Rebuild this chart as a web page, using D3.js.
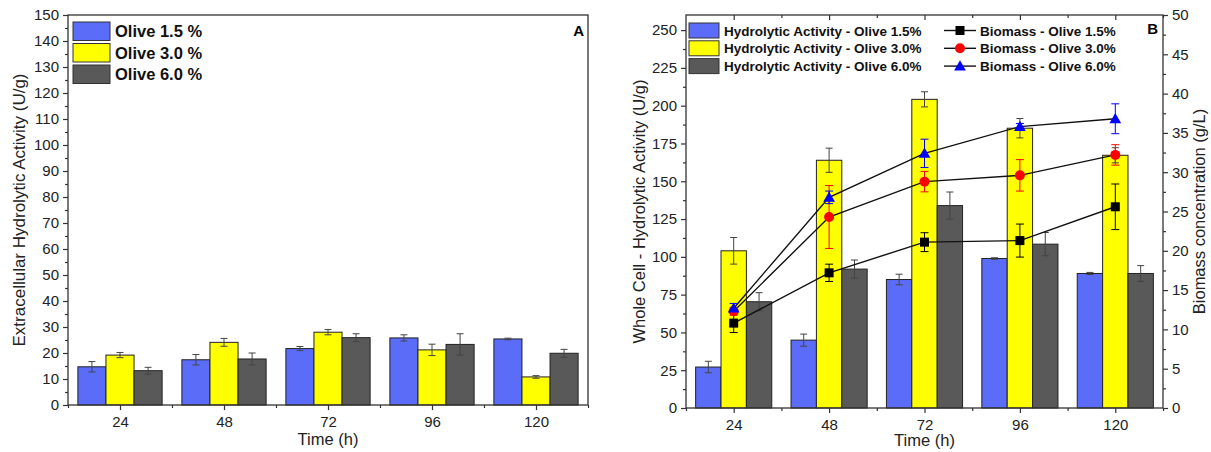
<!DOCTYPE html>
<html>
<head>
<meta charset="utf-8">
<script src="https://cdn.jsdelivr.net/npm/d3@7"></script>
<style>
  body { margin: 0; background: #fff; }
  svg { display: block; font-family: Arial, "Liberation Sans", sans-serif; }
  .tick text { font-size: 15px; fill: #222; }
  .tick line { stroke: #333; stroke-width: 1.2; }
</style>
</head>
<body>
<div id="chart"></div>
<script>
// sampling times (h)
const times = [24, 48, 72, 96, 120];

// panel A: extracellular hydrolytic activity (U/g)
const extLabels = ["Olive 1.5 %", "Olive 3.0 %", "Olive 6.0 %"];
const ext15 = [14.7, 17.4, 21.7, 25.8, 25.4];
const ext15Err = [2.0, 2.0, 0.8, 1.2, 0.3];
const ext30 = [19.2, 24.1, 28.0, 21.2, 10.8];
const ext30Err = [1.0, 1.5, 1.0, 2.2, 0.5];
const ext60 = [13.2, 17.7, 25.9, 23.3, 19.9];
const ext60Err = [1.3, 2.3, 1.5, 4.1, 1.5];

// panel B: whole cell hydrolytic activity (U/g)
const wcLabels = ["Hydrolytic Activity - Olive 1.5%", "Hydrolytic Activity - Olive 3.0%", "Hydrolytic Activity - Olive 6.0%"];
const wc15 = [27.1, 44.9, 85.0, 98.9, 89.0];
const wc15Err = [3.8, 4.0, 3.5, 0.5, 0.7];
const wc30 = [104.0, 163.9, 204.2, 185.1, 167.2];
const wc30Err = [8.8, 8.0, 5.0, 6.4, 5.0];
const wc60 = [70.3, 91.9, 133.9, 108.4, 89.0];
const wc60Err = [6.0, 6.0, 9.0, 7.7, 5.2];

// panel B: biomass concentration (g/L)
const bioLabels = ["Biomass - Olive 1.5%", "Biomass - Olive 3.0%", "Biomass - Olive 6.0%"];
const bio15 = [10.8, 17.2, 21.1, 21.3, 25.6];
const bio15Err = [1.2, 1.1, 1.2, 2.1, 2.9];
const bio30 = [12.3, 24.3, 28.8, 29.6, 32.2];
const bio30Err = [0.5, 4.0, 1.3, 2.0, 1.3];
const bio60 = [12.7, 26.8, 32.4, 35.8, 36.8];
const bio60Err = [0.6, 0.8, 1.8, 0.4, 1.9];

const barColors = ["#5b6cf8", "#ffff00", "#595959"];
const markColors = ["#000000", "#ff0000", "#0000ff"];

const svg = d3.select("#chart").append("svg")
    .attr("width", 1211)
    .attr("height", 452);

const idx = times.map((t, i) => i + 1);

function xAxes(g, x, y0, top) {
    g.append("g")
        .attr("transform", `translate(0,${y0})`)
        .call(d3.axisBottom(x).tickValues(idx).tickFormat(i => times[i - 1]).tickSize(5).tickPadding(6).tickSizeOuter(0))
        .call(a => a.select(".domain").remove());
    g.append("g")
        .attr("transform", `translate(0,${y0})`)
        .call(d3.axisBottom(x).tickValues(idx.map(i => i - 0.5).concat([5.5])).tickFormat("").tickSize(3).tickSizeOuter(0))
        .call(a => a.select(".domain").remove());
    if (top !== undefined) {
        g.append("g")
            .attr("transform", `translate(0,${top})`)
            .call(d3.axisBottom(x).tickValues(idx).tickFormat("").tickSize(5).tickSizeOuter(0))
            .call(a => a.select(".domain").remove());
        g.append("g")
            .attr("transform", `translate(0,${top})`)
            .call(d3.axisBottom(x).tickValues(idx.map(i => i + 0.5)).tickFormat("").tickSize(3).tickSizeOuter(0))
            .call(a => a.select(".domain").remove());
    }
}

function yAxis(g, y, x0, step, max, axisFn) {
    const major = d3.range(0, max + 0.01, step);
    const minor = d3.range(step / 2, y.domain()[1], step);
    g.append("g")
        .attr("transform", `translate(${x0},0)`)
        .call(axisFn(y).tickValues(major).tickSize(5).tickPadding(4).tickSizeOuter(0))
        .call(a => a.select(".domain").remove());
    g.append("g")
        .attr("transform", `translate(${x0},0)`)
        .call(axisFn(y).tickValues(minor).tickFormat("").tickSize(3).tickSizeOuter(0))
        .call(a => a.select(".domain").remove());
}

function frame(g, l, r, t, b) {
    g.append("rect")
        .attr("x", l).attr("y", t)
        .attr("width", r - l).attr("height", b - t)
        .attr("fill", "none")
        .attr("stroke", "#333")
        .attr("stroke-width", 1.3);
}

function errBar(g, x, y, v, e, color, cap) {
    g.append("line")
        .attr("x1", x).attr("x2", x)
        .attr("y1", y(v - e)).attr("y2", y(v + e))
        .attr("stroke", color).attr("stroke-width", 1);
    [v - e, v + e].forEach(val => {
        g.append("line")
            .attr("x1", x - cap).attr("x2", x + cap)
            .attr("y1", y(val)).attr("y2", y(val))
            .attr("stroke", color).attr("stroke-width", 1);
    });
}

function bars(g, x, y, series, errs, bw) {
    series.forEach((vals, s) => {
        vals.forEach((v, i) => {
            const cx = x(i + 1 + (s - 1) * bw);
            const w = x(bw) - x(0);
            g.append("rect")
                .attr("x", cx - w / 2)
                .attr("y", y(v))
                .attr("width", w)
                .attr("height", y(0) - y(v))
                .attr("fill", barColors[s])
                .attr("stroke", "#222")
                .attr("stroke-width", 1);
        });
    });
    series.forEach((vals, s) => {
        vals.forEach((v, i) => {
            const cx = x(i + 1 + (s - 1) * bw);
            errBar(g, cx, y, v, errs[s][i], "#444", 3.5);
        });
    });
}

// ---------- Panel A ----------
const A = { l: 68, r: 588, t: 15, b: 405 };
const gA = svg.append("g");
const xA = d3.scaleLinear().domain([0.5, 5.5]).range([A.l, A.r]);
const yA = d3.scaleLinear().domain([0, 150]).range([A.b, A.t]);

bars(gA, xA, yA, [ext15, ext30, ext60], [ext15Err, ext30Err, ext60Err], 0.27);
xAxes(gA, xA, A.b);
yAxis(gA, yA, A.l, 10, 150, d3.axisLeft);
frame(gA, A.l, A.r, A.t, A.b);

gA.append("text")
    .attr("transform", `translate(25,${(A.t + A.b) / 2}) rotate(-90)`)
    .attr("text-anchor", "middle")
    .attr("font-size", "17px")
    .attr("fill", "#222")
    .text("Extracellular Hydrolytic Activity (U/g)");
gA.append("text")
    .attr("x", (A.l + A.r) / 2).attr("y", 445)
    .attr("text-anchor", "middle")
    .attr("font-size", "16.5px")
    .attr("fill", "#222")
    .text("Time (h)");
gA.append("text")
    .attr("x", 584).attr("y", 36)
    .attr("text-anchor", "end")
    .attr("font-size", "15px")
    .attr("font-weight", "bold")
    .text("A");

extLabels.forEach((lab, s) => {
    const yy = 22 + s * 21.5;
    gA.append("rect")
        .attr("x", 73).attr("y", yy)
        .attr("width", 37).attr("height", 18.5)
        .attr("fill", barColors[s])
        .attr("stroke", "#333").attr("stroke-width", 1);
    gA.append("text")
        .attr("x", 115).attr("y", yy + 15)
        .attr("font-size", "16.5px")
        .attr("font-weight", "bold")
        .attr("fill", "#111")
        .text(lab);
});

// ---------- Panel B ----------
const B = { l: 686, r: 1163, t: 15, b: 408 };
const gB = svg.append("g");
const xB = d3.scaleLinear().domain([0.5, 5.5]).range([B.l, B.r]);
const yB = d3.scaleLinear().domain([0, 260]).range([B.b, B.t]);
const yR = d3.scaleLinear().domain([0, 50]).range([B.b, B.t]);

bars(gB, xB, yB, [wc15, wc30, wc60], [wc15Err, wc30Err, wc60Err], 0.266);

const bioSeries = [bio15, bio30, bio60];
const bioErrs = [bio15Err, bio30Err, bio60Err];
const line = d3.line().x((d, i) => xB(i + 1)).y(d => yR(d));

bioSeries.forEach((vals, s) => {
    gB.append("path")
        .attr("d", line(vals))
        .attr("fill", "none")
        .attr("stroke", "#111")
        .attr("stroke-width", 1.4);
});
bioSeries.forEach((vals, s) => {
    vals.forEach((v, i) => errBar(gB, xB(i + 1), yR, v, bioErrs[s][i], markColors[s], 4));
});

function marker(g, s, cx, cy) {
    if (s === 0) {
        g.append("rect").attr("x", cx - 4.5).attr("y", cy - 4.5)
            .attr("width", 9).attr("height", 9).attr("fill", "#000");
    } else if (s === 1) {
        g.append("circle").attr("cx", cx).attr("cy", cy).attr("r", 5)
            .attr("fill", "#ff0000");
    } else {
        g.append("path")
            .attr("d", d3.symbol(d3.symbolTriangle, 60)())
            .attr("transform", `translate(${cx},${cy + 1})`)
            .attr("fill", "#0000ff");
    }
}

bioSeries.forEach((vals, s) => {
    vals.forEach((v, i) => marker(gB, s, xB(i + 1), yR(v)));
});

xAxes(gB, xB, B.b, B.t);
yAxis(gB, yB, B.l, 25, 250, d3.axisLeft);
yAxis(gB, yR, B.r, 5, 50, d3.axisRight);
frame(gB, B.l, B.r, B.t, B.b);

gB.append("text")
    .attr("transform", `translate(645,${(B.t + B.b) / 2}) rotate(-90)`)
    .attr("text-anchor", "middle")
    .attr("font-size", "16.5px")
    .attr("fill", "#222")
    .text("Whole Cell - Hydrolytic Activity (U/g)");
gB.append("text")
    .attr("transform", `translate(1205,${(B.t + B.b) / 2}) rotate(-90)`)
    .attr("text-anchor", "middle")
    .attr("font-size", "16.5px")
    .attr("fill", "#222")
    .text("Biomass concentration (g/L)");
gB.append("text")
    .attr("x", xB(3)).attr("y", 446)
    .attr("text-anchor", "middle")
    .attr("font-size", "16.5px")
    .attr("fill", "#222")
    .text("Time (h)");
gB.append("text")
    .attr("x", 1158).attr("y", 34)
    .attr("text-anchor", "end")
    .attr("font-size", "15px")
    .attr("font-weight", "bold")
    .text("B");

wcLabels.forEach((lab, s) => {
    const yy = 23 + s * 17.8;
    gB.append("rect")
        .attr("x", 689).attr("y", yy)
        .attr("width", 30).attr("height", 15)
        .attr("fill", barColors[s])
        .attr("stroke", "#333").attr("stroke-width", 1);
    gB.append("text")
        .attr("x", 724).attr("y", yy + 12.5)
        .attr("font-size", "13.5px")
        .attr("font-weight", "bold")
        .attr("fill", "#111")
        .text(lab);
});
bioLabels.forEach((lab, s) => {
    const cy = 30.5 + s * 17.8;
    gB.append("line")
        .attr("x1", 944).attr("x2", 976)
        .attr("y1", cy).attr("y2", cy)
        .attr("stroke", "#111").attr("stroke-width", 1.4);
    marker(gB, s, 960, cy);
    gB.append("text")
        .attr("x", 980).attr("y", cy + 5)
        .attr("font-size", "13.5px")
        .attr("font-weight", "bold")
        .attr("fill", "#111")
        .text(lab);
});
</script>
</body>
</html>
